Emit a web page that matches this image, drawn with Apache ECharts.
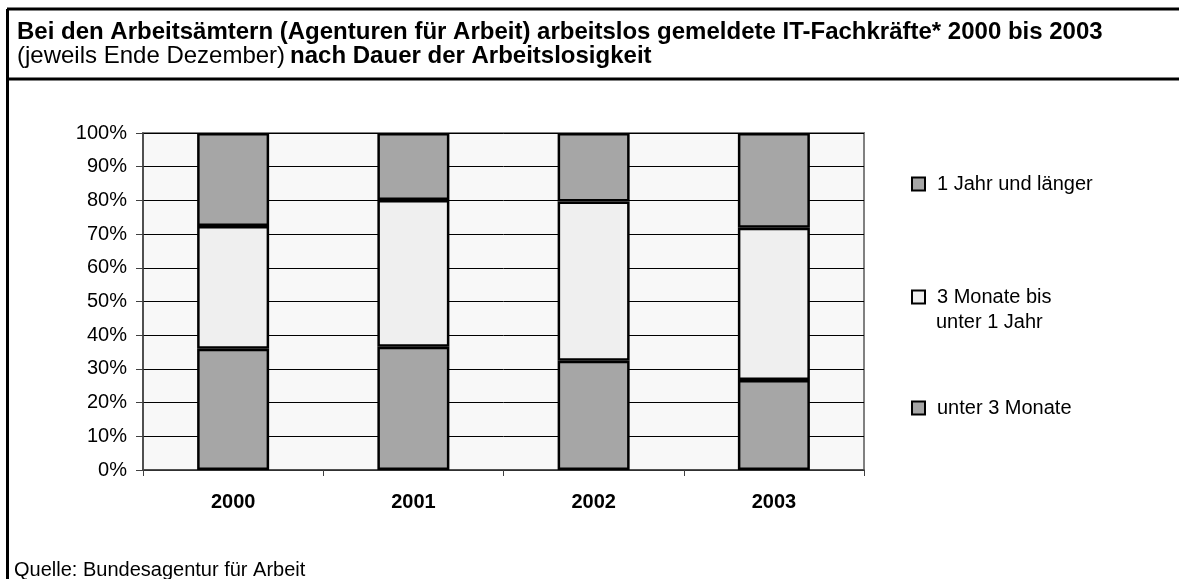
<!DOCTYPE html>
<html>
<head>
<meta charset="utf-8">
<title>IT-Fachkräfte nach Dauer der Arbeitslosigkeit</title>
<script src="https://cdn.jsdelivr.net/npm/echarts@6/dist/echarts.min.js"></script>
<style>
  html, body { margin: 0; padding: 0; background: #fff; }
  #chart { width: 1179px; height: 579px; }
</style>
</head>
<body>
<div id="chart"></div>
<script>
// Ende Dezember, Anteile in Prozent
const years = ['2000', '2001', '2002', '2003']
const unter3Monate = [36.0, 36.6, 32.4, 26.7]
const monate3bis1Jahr = [36.4, 43.5, 47.3, 45.2]
const jahrUndLaenger = [27.6, 19.9, 20.3, 28.1]
const yTicks = [0, 10, 20, 30, 40, 50, 60, 70, 80, 90, 100]

const font = 'Liberation Sans, Arial, sans-serif'
const darkGrey = '#a6a6a6'
const lightGrey = '#efefef'

const chart = echarts.init(document.getElementById('chart'))

const barStyle = color => ({
  color: color,
  borderColor: '#000',
  borderWidth: 2.5
})

// one legend per entry, so each can sit at its own height
const legendBase = {
  orient: 'vertical',
  left: 911,
  padding: 0,
  icon: 'rect',
  itemWidth: 13,
  itemHeight: 13,
  selectedMode: false,
  itemStyle: { borderColor: '#000', borderWidth: 2 },
  textStyle: { fontFamily: font, fontSize: 20, color: '#000', lineHeight: 25, padding: [0, 0, 0, 7] }
}

chart.setOption({
  animation: false,
  title: [{
    left: 17,
    top: 21,
    padding: 0,
    text: '{b|Bei den Arbeitsämtern (Agenturen für Arbeit) arbeitslos gemeldete IT-Fachkräfte* 2000 bis 2003}\n' +
      '{n|(jeweils Ende Dezember)} {b|nach Dauer der Arbeitslosigkeit}',
    textStyle: {
      rich: {
        b: { fontFamily: font, fontSize: 24, fontWeight: 'bold', color: '#000', lineHeight: 23.5 },
        n: { fontFamily: font, fontSize: 24, fontWeight: 'normal', color: '#000', lineHeight: 23.5 }
      }
    }
  }, {
    left: 14,
    top: 560,
    padding: 0,
    text: 'Quelle: Bundesagentur für Arbeit',
    textStyle: { fontFamily: font, fontSize: 20, fontWeight: 'normal', color: '#000', lineHeight: 20 }
  }],
  legend: [
    Object.assign({}, legendBase, { top: 171.5, data: ['1 Jahr und länger'] }),
    Object.assign({}, legendBase, {
      top: 284.5,
      data: ['3 Monate bis unter 1 Jahr'],
      formatter: () => '3 Monate bis'
    }),
    Object.assign({}, legendBase, { top: 395.5, data: ['unter 3 Monate'] })
  ],
  grid: {
    left: 143,
    right: 315,
    top: 133,
    bottom: 109,
    show: true,
    backgroundColor: '#f8f8f8',
    borderColor: '#808080',
    borderWidth: 2
  },
  xAxis: {
    type: 'category',
    data: years,
    axisLine: { lineStyle: { color: '#404040', width: 1.5 } },
    axisTick: { show: true, length: 6, lineStyle: { color: '#404040' } },
    axisLabel: { fontFamily: font, fontSize: 20, fontWeight: 'bold', color: '#000', margin: 22 }
  },
  yAxis: {
    type: 'value',
    min: yTicks[0],
    max: yTicks[yTicks.length - 1],
    interval: 10,
    axisLine: { show: true, lineStyle: { color: '#404040', width: 1.5 } },
    axisTick: { show: true, length: 7, lineStyle: { color: '#404040' } },
    axisLabel: { fontFamily: font, fontSize: 20, color: '#000', margin: 16, formatter: '{value}%' },
    splitLine: { lineStyle: { color: '#000', width: 1 } }
  },
  series: [{
    name: 'unter 3 Monate',
    type: 'bar',
    stack: 'dauer',
    barWidth: 72,
    data: unter3Monate,
    itemStyle: barStyle(darkGrey)
  }, {
    name: '3 Monate bis unter 1 Jahr',
    type: 'bar',
    stack: 'dauer',
    barWidth: 72,
    data: monate3bis1Jahr,
    itemStyle: barStyle(lightGrey)
  }, {
    name: '1 Jahr und länger',
    type: 'bar',
    stack: 'dauer',
    barWidth: 72,
    data: jahrUndLaenger,
    itemStyle: barStyle(darkGrey)
  }],
  graphic: [
    { type: 'line', shape: { x1: 7, y1: 9, x2: 1179, y2: 9 }, style: { stroke: '#000', lineWidth: 3 } },
    { type: 'line', shape: { x1: 7, y1: 79, x2: 1179, y2: 79 }, style: { stroke: '#000', lineWidth: 3 } },
    { type: 'line', shape: { x1: 7.5, y1: 9, x2: 7.5, y2: 579 }, style: { stroke: '#000', lineWidth: 3 } },
    // second line of the middle legend entry
    {
      type: 'text',
      left: 936,
      top: 312,
      style: { text: 'unter 1 Jahr', font: '20px ' + font, fill: '#000' }
    }
  ]
})
</script>
</body>
</html>
